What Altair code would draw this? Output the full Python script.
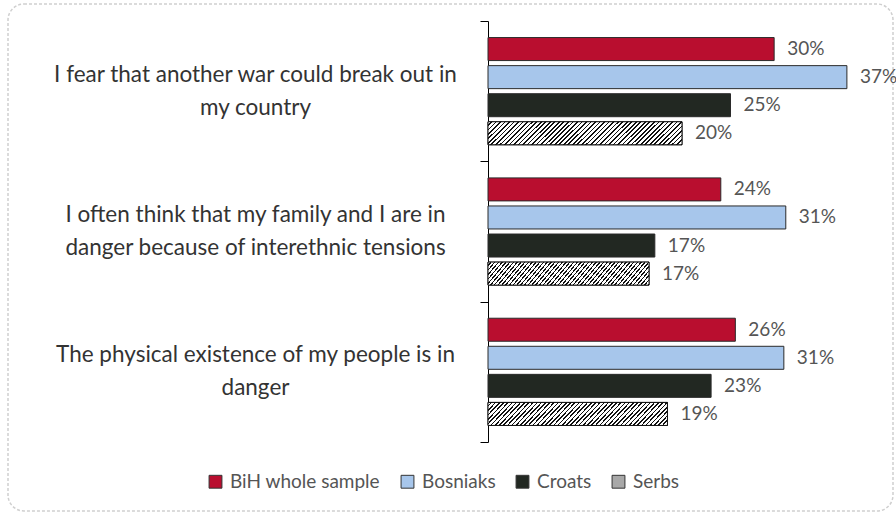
import altair as alt
import pandas as pd

# ---------------- data ----------------
categories = [
    "I fear that another war could break out in|my country",
    "I often think that my family and I are in|danger because of interethnic tensions",
    "The physical existence of my people is in|danger",
]
series = ["BiH whole sample", "Bosniaks", "Croats", "Serbs"]
bih_values = [29.5, 24.0, 25.5]
bosniak_values = [37.0, 30.7, 30.5]
croat_values = [25.0, 17.2, 23.0]
serb_values = [20.0, 16.6, 18.5]
bih_labels = ["30%", "24%", "26%"]
bosniak_labels = ["37%", "31%", "31%"]
croat_labels = ["25%", "17%", "23%"]
serb_labels = ["20%", "17%", "19%"]
series_colors = ["#b90e2f", "#a7c6eb", "#222822", "#a8a8a8"]

rows = []
for s, vals, labs in zip(
    series,
    [bih_values, bosniak_values, croat_values, serb_values],
    [bih_labels, bosniak_labels, croat_labels, serb_labels],
):
    for c, v, l in zip(categories, vals, labs):
        rows.append({"category": c, "series": s, "value": v, "label": l})
df = pd.DataFrame(rows)

FONT = "Lato"

# hatch pattern approximated with a striped linear gradient
N = 48
stops = []
for i in range(N):
    a, b, c = i / N, (i + 0.62) / N, (i + 1) / N
    stops += [
        alt.GradientStop(color="#ffffff", offset=a),
        alt.GradientStop(color="#ffffff", offset=b),
        alt.GradientStop(color="#111111", offset=b),
        alt.GradientStop(color="#111111", offset=c),
    ]
hatch = alt.LinearGradient(gradient="linear", stops=stops, x1=0, y1=0, x2=1.104, y2=0.1325)

y_enc = alt.Y(
    "category:N",
    sort=categories,
    scale=alt.Scale(paddingInner=0, paddingOuter=0),
    axis=alt.Axis(
        title=None,
        labelExpr="split(datum.label, '|')",
        labelAlign="center",
        labelBaseline="middle",
        labelPadding=225,
        labelOffset=-17,
        labelLimit=600,
        labelFont=FONT,
        labelFontSize=22.5,
        labelLineHeight=33,
        labelColor="#333333",
        tickSize=8,
        tickBand="extent",
        tickColor="#000000",
        domainColor="#000000",
        grid=False,
    ),
)
yoff_enc = alt.YOffset(
    "series:N",
    scale=alt.Scale(domain=series, paddingInner=0.18, paddingOuter=0.59),
)
x_enc = alt.X("value:Q", scale=alt.Scale(domain=[0, 40]), axis=None)

base = alt.Chart(df)

bars = base.mark_bar(stroke="#2a2a2a", strokeWidth=1).encode(
    x=x_enc,
    y=y_enc,
    yOffset=yoff_enc,
    fill=alt.Fill(
        "series:N",
        scale=alt.Scale(domain=series, range=series_colors),
        legend=alt.Legend(
            orient="none",
            legendX=-282,
            legendY=451,
            direction="horizontal",
            title=None,
            symbolType="square",
            symbolSize=165,
            symbolStrokeColor="#333333",
            symbolStrokeWidth=1,
            symbolOpacity=1,
            labelFont=FONT,
            labelFontSize=19,
            labelColor="#555555",
            labelOffset=5,
            columnPadding=17,
        ),
    ),
)

serbs_overlay = base.transform_filter(alt.datum.series == "Serbs").mark_bar(
    fill=hatch, stroke="#111111", strokeWidth=1
).encode(x=x_enc, y=y_enc, yOffset=yoff_enc)

text = base.mark_text(
    align="left", baseline="middle", dx=13, font=FONT, fontSize=19, color="#555555"
).encode(x=x_enc, y=y_enc, yOffset=yoff_enc, text="label:N")

border = alt.Chart(pd.DataFrame({"k": [0]})).mark_rect(
    filled=False, stroke="#cfcfcf", strokeDash=[3, 2], strokeWidth=1.5, cornerRadius=16
).encode(
    x=alt.value(-480), x2=alt.value(405), y=alt.value(-17), y2=alt.value(490)
)

chart = alt.layer(border, bars, serbs_overlay, text).properties(
    width=388,
    height=421,
    autosize=alt.AutoSizeParams(type="none"),
    padding={"left": 488, "top": 21, "right": 20, "bottom": 72},
    background="#ffffff",
).configure_view(strokeWidth=0)

chart.save("out.html", embed_options={"renderer": "svg", "actions": False})
